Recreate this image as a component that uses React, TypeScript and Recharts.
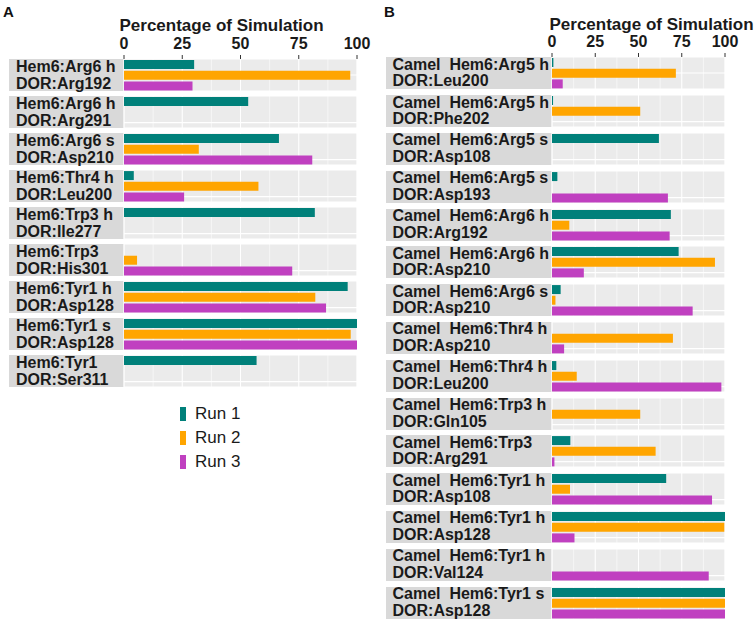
import React from 'react';
import { BarChart, Bar, XAxis, YAxis, CartesianGrid, Cell } from 'recharts';

const FONT = '"Liberation Sans", Arial, Helvetica, sans-serif';

const RUNS = ['Run 1', 'Run 2', 'Run 3'];
const RUN_COLORS = ['#00807A', '#FFA500', '#C040C0'];

const MAJOR_TICKS = [0, 25, 50, 75, 100];
const MINOR_TICKS = [12.5, 37.5, 62.5, 87.5];

const panelALabels = [
  ['Hem6:Arg6 h', 'DOR:Arg192'],
  ['Hem6:Arg6 h', 'DOR:Arg291'],
  ['Hem6:Arg6 s', 'DOR:Asp210'],
  ['Hem6:Thr4 h', 'DOR:Leu200'],
  ['Hem6:Trp3 h', 'DOR:Ile277'],
  ['Hem6:Trp3', 'DOR:His301'],
  ['Hem6:Tyr1 h', 'DOR:Asp128'],
  ['Hem6:Tyr1 s', 'DOR:Asp128'],
  ['Hem6:Tyr1', 'DOR:Ser311'],
];
const panelARun1 = [30.1, 53.3, 66.5, 4.2, 81.9, 0, 96, 100, 56.9];
const panelARun2 = [97.1, 0, 32.1, 57.7, 0, 5.6, 82.1, 97.3, 0];
const panelARun3 = [29.4, 0, 80.8, 25.8, 0, 72.2, 86.7, 100, 0];

const panelBLabels = [
  ['Camel  Hem6:Arg5 h', 'DOR:Leu200'],
  ['Camel  Hem6:Arg5 h', 'DOR:Phe202'],
  ['Camel  Hem6:Arg5 s', 'DOR:Asp108'],
  ['Camel  Hem6:Arg5 s', 'DOR:Asp193'],
  ['Camel  Hem6:Arg6 h', 'DOR:Arg192'],
  ['Camel  Hem6:Arg6 h', 'DOR:Asp210'],
  ['Camel  Hem6:Arg6 s', 'DOR:Asp210'],
  ['Camel  Hem6:Thr4 h', 'DOR:Asp210'],
  ['Camel  Hem6:Thr4 h', 'DOR:Leu200'],
  ['Camel  Hem6:Trp3 h', 'DOR:Gln105'],
  ['Camel  Hem6:Trp3', 'DOR:Arg291'],
  ['Camel  Hem6:Tyr1 h', 'DOR:Asp108'],
  ['Camel  Hem6:Tyr1 h', 'DOR:Asp128'],
  ['Camel  Hem6:Tyr1 h', 'DOR:Val124'],
  ['Camel  Hem6:Tyr1 s', 'DOR:Asp128'],
];
const panelBRun1 = [0.8, 0.6, 61.8, 3.1, 68.7, 73.2, 5, 0, 2.5, 0, 10.6, 66, 100, 0, 100];
const panelBRun2 = [71.6, 51, 0, 0, 10, 94.2, 2, 69.9, 14.3, 51, 59.9, 10.4, 99.6, 0, 100];
const panelBRun3 = [6.2, 0, 0, 67, 68, 18.4, 81.3, 7, 97.9, 0, 1.4, 92.5, 13, 90.6, 100];

const AXIS_TITLE = 'Percentage of Simulation';

const SIDE = 16;
const AXIS_H = 30;
const FACET_H = 32;

type FacetProps = { values: number[]; plotWidth: number; showAxis: boolean };

function Facet({ values, plotWidth, showAxis }: FacetProps) {
  const data = RUNS.map((r, i) => ({ run: r, value: values[i] }));
  const axisH = showAxis ? AXIS_H : 0;
  return (
    <BarChart
      width={plotWidth + 2 * SIDE}
      height={FACET_H + axisH}
      data={data}
      layout="vertical"
      margin={{ top: 0, right: SIDE, bottom: 0, left: SIDE }}
      barCategoryGap="10%"
    >
      <CartesianGrid xAxisId="major" fill="#EBEBEB" fillOpacity={1} stroke="#FFFFFF" strokeWidth={1.1} />
      <CartesianGrid xAxisId="minor" horizontal={false} stroke="#FFFFFF" strokeWidth={0.55} />
      <XAxis
        xAxisId="major"
        type="number"
        domain={[0, 100]}
        allowDataOverflow
        ticks={MAJOR_TICKS}
        interval={0}
        orientation="top"
        hide={!showAxis}
        height={axisH}
        axisLine={false}
        tickLine={{ stroke: '#333333', strokeWidth: 1 }}
        tickSize={4}
        tickMargin={6}
        tick={{ fill: '#1A1A1A', fontSize: 16, fontWeight: 'bold', fontFamily: FONT }}
      />
      <XAxis
        xAxisId="minor"
        type="number"
        domain={[0, 100]}
        allowDataOverflow
        ticks={MINOR_TICKS}
        interval={0}
        orientation="top"
        hide
      />
      <YAxis type="category" dataKey="run" hide />
      <Bar dataKey="value" xAxisId="major" isAnimationActive={false}>
        {data.map((d, i) => (
          <Cell key={d.run} fill={RUN_COLORS[i]} />
        ))}
      </Bar>
    </BarChart>
  );
}

type PanelProps = {
  labels: string[][];
  run1: number[];
  run2: number[];
  run3: number[];
  stripLeft: number;
  plotLeft: number;
  plotWidth: number;
  firstTop: number;
  pitch: number;
  padLeft: number;
  lineH: number;
};

function Panel({ labels, run1, run2, run3, stripLeft, plotLeft, plotWidth, firstTop, pitch, padLeft, lineH }: PanelProps) {
  return (
    <>
      {labels.map((lab, i) => {
        const top = firstTop + i * pitch;
        const showAxis = i === 0;
        return (
          <React.Fragment key={i}>
            <div
              style={{
                position: 'absolute',
                left: stripLeft,
                top,
                width: plotLeft - stripLeft,
                height: FACET_H,
                background: '#D9D9D9',
                display: 'flex',
                flexDirection: 'column',
                justifyContent: 'center',
                paddingLeft: padLeft,
                boxSizing: 'border-box',
                fontFamily: FONT,
                fontWeight: 'bold',
                fontSize: 16,
                lineHeight: `${lineH}px`,
                color: '#1A1A1A',
                whiteSpace: 'pre',
              }}
            >
              <div>{lab[0]}</div>
              <div>{lab[1]}</div>
            </div>
            <div
              style={{
                position: 'absolute',
                left: plotLeft - SIDE,
                top: top - (showAxis ? AXIS_H : 0),
              }}
            >
              <Facet values={[run1[i], run2[i], run3[i]]} plotWidth={plotWidth} showAxis={showAxis} />
            </div>
          </React.Fragment>
        );
      })}
    </>
  );
}

export default function App() {
  return (
    <div
      style={{
        position: 'absolute',
        left: 0,
        top: 0,
        width: 754,
        height: 622,
        background: '#FFFFFF',
        overflow: 'hidden',
        fontFamily: FONT,
      }}
    >
      <div style={{ position: 'absolute', left: 3, top: 2.8, fontSize: 15, fontWeight: 'bold', lineHeight: '17px', color: '#111' }}>A</div>
      <div style={{ position: 'absolute', left: 384, top: 2.8, fontSize: 15, fontWeight: 'bold', lineHeight: '17px', color: '#111' }}>B</div>

      <div style={{ position: 'absolute', left: 119.5, top: 16.6, fontSize: 17, fontWeight: 'bold', lineHeight: '17px', color: '#1A1A1A', whiteSpace: 'nowrap' }}>
        {AXIS_TITLE}
      </div>
      <div style={{ position: 'absolute', left: 549.5, top: 15.8, fontSize: 17, fontWeight: 'bold', lineHeight: '17px', color: '#1A1A1A', whiteSpace: 'nowrap' }}>
        {AXIS_TITLE}
      </div>

      <Panel
        labels={panelALabels}
        run1={panelARun1}
        run2={panelARun2}
        run3={panelARun3}
        stripLeft={9}
        plotLeft={124}
        plotWidth={233}
        firstTop={59}
        pitch={37}
        padLeft={7}
        lineH={17}
      />
      <Panel
        labels={panelBLabels}
        run1={panelBRun1}
        run2={panelBRun2}
        run3={panelBRun3}
        stripLeft={386}
        plotLeft={552}
        plotWidth={173}
        firstTop={57.3}
        pitch={37.8}
        padLeft={6.5}
        lineH={16.5}
      />

      {RUNS.map((r, i) => (
        <div key={r} style={{ position: 'absolute', left: 180, top: 402 + i * 24, height: 24, display: 'flex', alignItems: 'center' }}>
          <div style={{ width: 6, height: 14, background: RUN_COLORS[i] }} />
          <div style={{ marginLeft: 9, fontSize: 17, color: '#1A1A1A', lineHeight: '24px' }}>{r}</div>
        </div>
      ))}
    </div>
  );
}
